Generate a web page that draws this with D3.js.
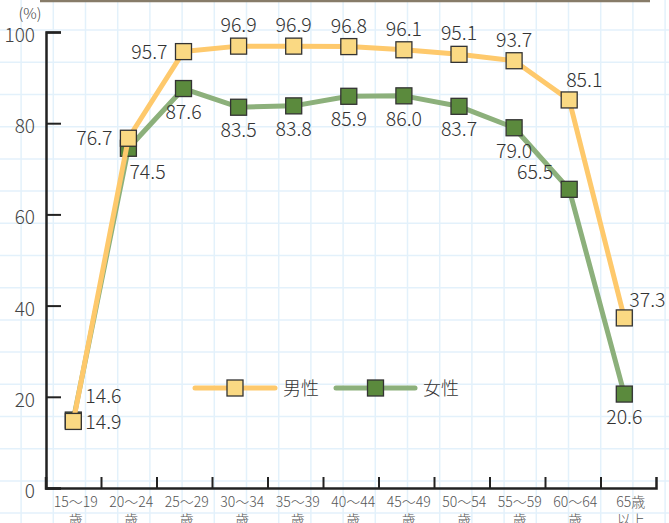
<!DOCTYPE html>
<html>
<head>
<meta charset="utf-8">
<script src="https://cdn.jsdelivr.net/npm/d3@7"></script>
<style>
  body { margin: 0; background: #fff; }
  text { font-family: "Noto Sans CJK JP", "Noto Sans", sans-serif; font-weight: 300; }
</style>
</head>
<body>
<script>
// data
var ageTop    = ["15〜19", "20〜24", "25〜29", "30〜34", "35〜39", "40〜44", "45〜49", "50〜54", "55〜59", "60〜64", "65歳"];
var ageBottom = ["歳", "歳", "歳", "歳", "歳", "歳", "歳", "歳", "歳", "歳", "以上"];
var male   = [14.6, 76.7, 95.7, 96.9, 96.9, 96.8, 96.1, 95.1, 93.7, 85.1, 37.3];
var female = [14.9, 74.5, 87.6, 83.5, 83.8, 85.9, 86.0, 83.7, 79.0, 65.5, 20.6];
var yTicks = [0, 20, 40, 60, 80, 100];
var seriesNames = ["男性", "女性"];

// where each value label sits next to its marker
var maleLabelPos   = ["ur", "l", "l", "t", "t", "t", "t", "t", "t", "tr", "ur2"];
var femaleLabelPos = ["r", "br", "b", "b", "b", "b", "b", "b", "b", "ul", "b"];

var W = 669, H = 523;
var maleLine = "#fec96c", maleFill = "#fad983";
var femaleLine = "#8cb07b", femaleFill = "#5b8a3d";

var svg = d3.select("body").append("svg")
    .attr("width", W)
    .attr("height", H);

// background grid
var grid = svg.append("g");
d3.range(21.1, W, 32.2).forEach(function(gx) {
  grid.append("line").attr("x1", gx).attr("x2", gx).attr("y1", 0).attr("y2", H)
    .attr("stroke", "#e3f1fb").attr("stroke-width", 1.5);
});
d3.range(30.1, H, 32.2).forEach(function(gy) {
  grid.append("line").attr("x1", 0).attr("x2", W).attr("y1", gy).attr("y2", gy)
    .attr("stroke", "#e3f1fb").attr("stroke-width", 1.5);
});

// top rule
svg.append("line")
  .attr("x1", 40).attr("x2", 650).attr("y1", 1).attr("y2", 1)
  .attr("stroke", "#877c69").attr("stroke-width", 2.5);

// scales
var idx = d3.range(ageTop.length);
var x = d3.scalePoint().domain(idx).range([73.3, 624.3]);
var xBand = d3.scaleBand().domain(idx).range([45.5, 656]);
var xEdge = d3.scaleLinear().domain([0, ageTop.length]).range([45.5, 656]);
var y = d3.scaleLinear().domain([0, 100]).range([488, 32]);

// y axis: ticks point inward, labels on the left
var yAxis = svg.append("g")
  .attr("transform", "translate(46,0)")
  .call(d3.axisLeft(y).tickValues(yTicks).tickSize(-15).tickSizeOuter(-15).tickPadding(11));
yAxis.select(".domain").attr("stroke", "#222").attr("stroke-width", 2.5);
yAxis.selectAll(".tick line").attr("stroke", "#222").attr("stroke-width", 2);
yAxis.selectAll(".tick text")
  .attr("font-size", 19).attr("fill", "#444")
  .attr("dy", "0.5em")
  .style("font-family", '"Noto Sans CJK JP", sans-serif')
  .style("font-weight", 300);

svg.append("text")
  .attr("x", 30).attr("y", 19)
  .attr("text-anchor", "middle")
  .attr("font-size", 15).attr("fill", "#444")
  .text("(%)");

// x axis: ticks at category edges, pointing up
var xAxis = svg.append("g")
  .attr("transform", "translate(0,488)")
  .call(d3.axisBottom(xEdge).tickValues(d3.range(1, ageTop.length)).tickSize(-11).tickSizeOuter(-11).tickFormat(""));
xAxis.select(".domain").attr("stroke", "#222").attr("stroke-width", 2.5);
xAxis.selectAll(".tick line").attr("stroke", "#222").attr("stroke-width", 2);

var xl = svg.append("g").attr("font-size", 14).attr("fill", "#555").attr("text-anchor", "middle");
xl.selectAll("text.top").data(idx).join("text")
  .attr("class", "top")
  .attr("x", function(i) { return xBand(i) + xBand.bandwidth() / 2 + 2.5; })
  .attr("y", 507)
  .text(function(i) { return ageTop[i]; });
xl.selectAll("text.bot").data(idx).join("text")
  .attr("class", "bot")
  .attr("x", function(i) { return xBand(i) + xBand.bandwidth() / 2 + 2.5; })
  .attr("y", 525)
  .text(function(i) { return ageBottom[i]; });

// lines and markers
var line = d3.line()
  .x(function(d, i) { return x(i); })
  .y(function(d) { return y(d); });

function drawSeries(values, stroke, fill) {
  svg.append("path")
    .datum(values)
    .attr("fill", "none")
    .attr("stroke", stroke)
    .attr("stroke-width", 5)
    .attr("stroke-linejoin", "round")
    .attr("d", line);
  svg.append("g").selectAll("rect").data(values).join("rect")
    .attr("x", function(d, i) { return x(i) - 8; })
    .attr("y", function(d) { return y(d) - 8; })
    .attr("width", 16).attr("height", 16)
    .attr("fill", fill)
    .attr("stroke", "#333").attr("stroke-width", 1.3);
}
drawSeries(female, femaleLine, femaleFill);
drawSeries(male, maleLine, maleFill);

// value labels
var offsets = {
  t:   ["middle", 0, -14],
  b:   ["middle", 0, 30],
  l:   ["end", -16, 7],
  r:   ["start", 12, 9],
  ur:  ["start", 12, -18],
  ur2: ["start", 5, -11],
  br:  ["start", 1, 31],
  tr:  ["start", -3, -13],
  ul:  ["end", -16, -10]
};
function drawLabels(values, pos) {
  svg.append("g").selectAll("text").data(values).join("text")
    .attr("font-size", 19.5).attr("fill", "#333")
    .attr("text-anchor", function(d, i) { return offsets[pos[i]][0]; })
    .attr("x", function(d, i) { return x(i) + offsets[pos[i]][1]; })
    .attr("y", function(d, i) { return y(d) + offsets[pos[i]][2]; })
    .text(function(d) { return d.toFixed(1); });
}
drawLabels(male, maleLabelPos);
drawLabels(female, femaleLabelPos);

// legend
var legend = [
  {name: seriesNames[0], x1: 195, x2: 275, stroke: maleLine, fill: maleFill},
  {name: seriesNames[1], x1: 336, x2: 415, stroke: femaleLine, fill: femaleFill}
];
var lg = svg.append("g");
legend.forEach(function(d) {
  lg.append("line")
    .attr("x1", d.x1).attr("x2", d.x2).attr("y1", 388).attr("y2", 388)
    .attr("stroke", d.stroke).attr("stroke-width", 5).attr("stroke-linecap", "round");
  lg.append("rect")
    .attr("x", (d.x1 + d.x2) / 2 - 8).attr("y", 380)
    .attr("width", 16).attr("height", 16)
    .attr("fill", d.fill).attr("stroke", "#333").attr("stroke-width", 1.3);
  lg.append("text")
    .attr("x", d.x2 + 8).attr("y", 395)
    .attr("font-size", 18).attr("fill", "#333")
    .text(d.name);
});
</script>
</body>
</html>
